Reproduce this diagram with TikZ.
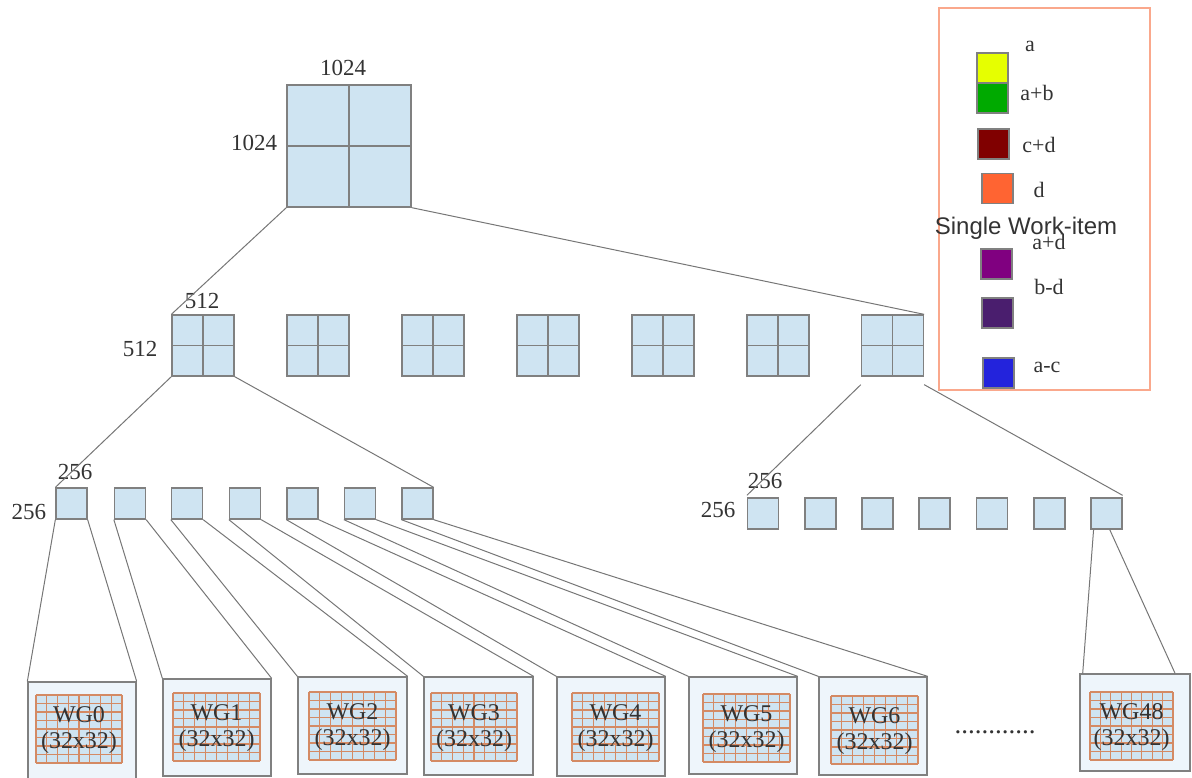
\documentclass[tikz,border=0pt]{standalone}
\usepackage{fontspec}
\setmainfont{Liberation Serif}
\newfontfamily\labelsans{Liberation Sans}
\usetikzlibrary{calc}

\definecolor{cellblue}{RGB}{207,228,242}
\definecolor{paleblue}{RGB}{238,245,251}
\definecolor{edgegray}{RGB}{128,128,128}
\definecolor{linkgray}{RGB}{118,118,118}
\definecolor{gridorange}{RGB}{212,138,100}
\definecolor{legendedge}{RGB}{250,168,140}
\definecolor{inkgray}{RGB}{51,51,51}
\definecolor{swyellow}{RGB}{230,255,0}
\definecolor{swgreen}{RGB}{0,170,0}
\definecolor{swmaroon}{RGB}{128,0,0}
\definecolor{sworange}{RGB}{255,100,50}
\definecolor{swpurple}{RGB}{128,0,128}
\definecolor{swindigo}{RGB}{74,30,110}
\definecolor{swblue}{RGB}{35,35,220}

% work-group block: name, label, outer x1, y1, x2, y2, grid x1, grid y1, grid x2
\newcommand\wgblock[9]{%
  \node[wgouter, minimum width={#5-#3}, minimum height={#6-#4}] (#1) at ({(#3+#5)/2},{(#4+#6)/2}) {};
  \fill[cellblue] (#7,#8) rectangle (#9,{#8+68});
  \foreach \k in {0,...,8} {
    \draw[gridline] ({#7+\k*(#9-#7)/8},#8) -- ++(0,68);
    \draw[gridline] (#7,{#8+\k*68/8}) -- (#9,{#8+\k*68/8});
  }
  \node[wgtext] (#1-label) at ({(#7+#9)/2},{#8+35}) {#2\\(32x32)};
}

\begin{document}
\begin{tikzpicture}[x=1pt,y=-1pt,
  blocktile/.style={draw=edgegray, fill=cellblue, line width=1.3pt, inner sep=0pt,
    minimum width=#1, minimum height=#1},
  quad/.style={path picture={\draw[edgegray,line width=1.3pt]
    (path picture bounding box.north) -- (path picture bounding box.south)
    (path picture bounding box.west) -- (path picture bounding box.east);}},
  link/.style={draw=linkgray, line width=1pt},
  dimlabel/.style={text=inkgray, font=\fontsize{23}{26}\selectfont, inner sep=0pt},
  wgouter/.style={draw=edgegray, fill=paleblue, line width=1.3pt, inner sep=0pt},
  gridline/.style={draw=gridorange, line width=1.2pt},
  wgtext/.style={text=inkgray, font=\fontsize{24}{26}\selectfont, align=center, inner sep=0pt},
  swatch/.style={draw=edgegray, line width=1.2pt, minimum width=31pt, minimum height=30pt, inner sep=0pt},
  legtext/.style={text=inkgray, font=\fontsize{22}{24}\selectfont, inner sep=0pt}
]
\useasboundingbox (0,0) rectangle (1192,778);

% 1024 x 1024 matrix
\node[blocktile=122pt, minimum width=124pt, quad] (top) at (349,146) {};
\node[dimlabel] (top-w) at (343,68) {1024};
\node[dimlabel] (top-h) at (254,143) {1024};

% 512 x 512 sub-blocks
\foreach \i/\x in {1/203,2/318,3/433,4/548,5/663,6/778,7/892.5}
  \node[blocktile=61pt, minimum width=62pt, quad] (m\i) at (\x,345.5) {};
\node[dimlabel] (m-w) at (202,301) {512};
\node[dimlabel] (m-h) at (140,349) {512};

% 256 x 256 tiles, left group
\foreach \i/\x in {1/71.5,2/130,3/187,4/245,5/302.5,6/360,7/417.5}
  \node[blocktile=31pt] (l\i) at (\x,503.5) {};
\node[dimlabel] (l-w) at (75,472) {256};
\node[dimlabel] (l-h) at (29,512) {256};

% 256 x 256 tiles, right group
\foreach \i/\x in {1/763,2/820.5,3/877.5,4/934.5,5/992,6/1049.5,7/1106.5}
  \node[blocktile=31pt] (r\i) at (\x,513.5) {};
\node[dimlabel] (r-w) at (765,481) {256};
\node[dimlabel] (r-h) at (718,510) {256};

% work groups
\wgblock{wg0}{WG0}{28}{682}{136}{779}{36}{695}{122}
\wgblock{wg1}{WG1}{163}{679}{271}{776}{173}{693}{260}
\wgblock{wg2}{WG2}{298}{677}{407}{774}{309}{692}{396}
\wgblock{wg3}{WG3}{424}{677}{533}{775}{431}{693}{517}
\wgblock{wg4}{WG4}{557}{677}{665}{776}{572}{693}{659}
\wgblock{wg5}{WG5}{689}{677}{797}{774}{703}{694}{790}
\wgblock{wg6}{WG6}{819}{677}{927}{775}{831}{696}{918}
\wgblock{wg48}{WG48}{1080}{674}{1190}{771}{1090}{692}{1173}
\node[text=inkgray, font=\fontsize{27}{27}\selectfont, inner sep=0pt] (dots) at (995,732) {............};

% connectors between levels
\draw[link] (top.south west) -- (m1.north west);
\draw[link] (top.south east) -- (m7.north east);
\draw[link] (m1.south west) -- (l1.north west);
\draw[link] (m1.south east) -- (l7.north east);
\draw[link] ([yshift=-8pt]m7.south west) -- ([yshift=2pt]r1.north west);
\draw[link] ([yshift=-8pt]m7.south east) -- ([yshift=2pt]r7.north east);
\foreach \i [evaluate=\i as \j using int(\i-1)] in {1,...,7} {
  \draw[link] (l\i.south west) -- (wg\j.north west);
  \draw[link] (l\i.south east) -- (wg\j.north east);
}
\draw[link] ($(r7.south west)!0.1!(r7.south east)$) -- ($(wg48.north west)!0.03!(wg48.north east)$);
\draw[link] ($(r7.south west)!0.6!(r7.south east)$) -- ($(wg48.north west)!0.86!(wg48.north east)$);

% legend
\node[draw=legendedge, line width=1.5pt, minimum width=211pt, minimum height=382pt, inner sep=0pt] (legend) at (1044.5,199) {};
\node[swatch, fill=swyellow] (s-a) at (992.5,68) {};
\node[swatch, fill=swgreen] (s-ab) at (992.5,98) {};
\node[swatch, fill=swmaroon] (s-cd) at (993.5,144) {};
\node[swatch, fill=sworange] (s-d) at (997.5,188.5) {};
\node[swatch, fill=swpurple] (s-ad) at (996.5,264) {};
\node[swatch, fill=swindigo] (s-bd) at (997.5,313) {};
\node[swatch, fill=swblue] (s-ac) at (998.5,373) {};
\node[legtext] (t-a) at (1030,46) {a};
\node[legtext] (t-ab) at (1037,93) {a+b};
\node[legtext] (t-cd) at (1039,145) {c+d};
\node[legtext] (t-d) at (1039,190) {d};
\node[legtext] (t-ad) at (1049,242) {a+d};
\node[legtext] (t-bd) at (1049,287) {b-d};
\node[legtext] (t-ac) at (1047,367) {a-c};
\node[text=inkgray, font=\labelsans\fontsize{24}{26}\selectfont, inner sep=0pt] (single) at (1026,228) {Single Work-item};
\end{tikzpicture}
\end{document}
